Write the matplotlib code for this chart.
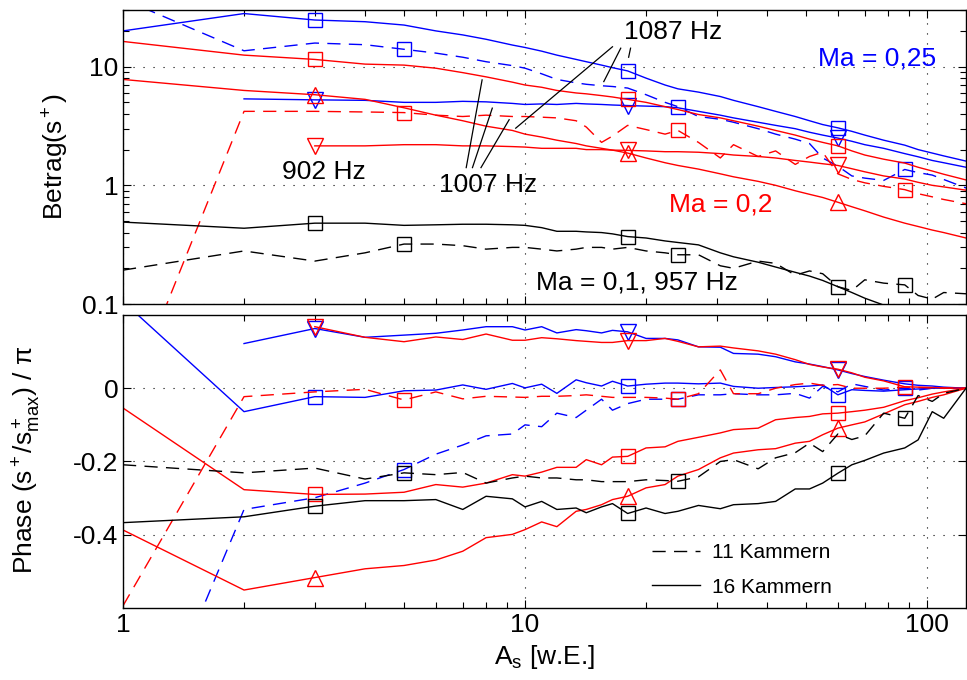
import matplotlib
matplotlib.use('Agg')
import matplotlib.pyplot as plt
from matplotlib.lines import Line2D
from matplotlib.ticker import FuncFormatter, NullFormatter
import numpy as np

plt.rcParams['font.family'] = ['Liberation Sans', 'DejaVu Sans']
plt.rcParams['mathtext.fontset'] = 'custom'
plt.rcParams['mathtext.rm'] = 'Liberation Sans'
plt.rcParams['mathtext.it'] = 'Liberation Sans:italic'
plt.rcParams['axes.unicode_minus'] = False

# common A_s grid
a_s = [1, 2, 3, 4, 5, 6, 7, 8, 9.3, 10, 11, 12, 13.4, 14.2, 15.5, 16.5, 18, 20, 22.3, 24,
       27, 30.6, 33, 38, 42, 47, 51, 55, 60, 65, 70, 78, 88, 95, 103, 110, 125]
x_mark_solid = [3, 18, 60]
x_mark_dash = [5, 24, 88]

# Betrag(s+)
mag_b_sq = [20, 28, 24.7, 23.9, 22.4, 20, 18.5, 17, 15.2, 14.5, 13.5, 12.5, 11.5, 11, 10.3,
            9.8, 9.2, 8.0, 7.0, 6.5, 6.1, 5.6, 5.2, 4.6, 4.2, 3.8, 3.5, 3.25, 3.05, 2.85,
            2.65, 2.4, 2.18, 2.0, 1.87, 1.77, 1.6]
mag_b_v = [None, 5.35, 5.25, 5.2, 5.0, 5.0, 5.1, 5.05, 4.9, 4.8, 4.85, 4.8, 4.9, 4.85, 4.8,
           4.75, 4.7, 4.65, 4.6, 4.5, 4.2, 3.9, 3.7, 3.4, 3.2, 3.0, 2.8, 2.65, 2.5, 2.35,
           2.2, 2.05, 1.85, 1.74, 1.62, 1.55, 1.42]
mag_b_da = [37, 13.6, 15.8, 15.3, 14, 13, 12, 11, 10.2, 9.7, 8.7, 7.8, 7.3, 7.1, 6.9,
            6.8, 6.6, 5.8, 5.0, 4.6, 3.8, 3.6, 3.4, 3.0, 2.7, 2.45, 2.25, 1.7, 1.45, 1.2,
            1.15, 1.1, 1.36, 1.28, 1.22, 1.12, 0.95]
mag_r_sq = [16.3, 12.5, 11.5, 10.5, 10.3, 9.7, 8.9, 8.2, 7.4, 7.0, 6.7, 6.3, 6.0, 5.9, 5.7,
            5.55, 5.3, 5.0, 4.6, 4.35, 3.95, 3.7, 3.5, 3.15, 2.9, 2.65, 2.45, 2.3, 2.15, 1.95,
            1.8, 1.66, 1.54, 1.42, 1.32, 1.24, 1.11]
mag_r_up = [7.8, 6.3, 5.8, 5.3, 4.5, 3.9, 3.5, 3.15, 2.9, 2.7, 2.55, 2.4, 2.25, 2.15, 2.05,
            1.98, 1.87, 1.7, 1.55, 1.47, 1.37, 1.25, 1.18, 1.08, 1.0, 0.9, 0.84, 0.79, 0.72, 0.66,
            0.61, 0.54, 0.48, 0.45, 0.42, 0.4, 0.36]
mag_r_v = [None, None, 2.15, 2.15, 2.2, 2.2, 2.15, 2.15, 2.12, 2.1, 2.05, 2.05, 2.05, 2.0, 2.0,
           1.98, 1.97, 1.95, 1.92, 1.92, 1.9, 1.85, 1.8, 1.75, 1.7, 1.62, 1.57, 1.52, 1.47, 1.38,
           1.3, 1.2, 1.13, 1.06, 1.0, 0.97, 0.91]
mag_r_da = [0.012, 4.2, 4.2, 4.15, 4.1, 3.9, 3.8, 3.9, 3.8, 3.8, 3.75, 3.7, 3.5, 3.1, 2.3,
            2.6, 3.2, 2.95, 2.7, 2.9, 2.3, 1.7, 2.2, 1.75, 1.95, 1.5, 1.75, 1.9, 1.25, 1.12,
            1.05, 0.98, 0.92, 0.85, 0.8, 0.76, 0.7]
mag_k_so = [0.49, 0.435, 0.48, 0.48, 0.46, 0.465, 0.47, 0.47, 0.465, 0.46, 0.44, 0.41, 0.41, 0.405, 0.4,
            0.39, 0.37, 0.36, 0.34, 0.33, 0.315, 0.27, 0.25, 0.225, 0.205, 0.185, 0.172, 0.158, 0.14, 0.125,
            0.112, 0.098, 0.083, 0.075, 0.068, 0.062, 0.052]
mag_k_da = [0.193, 0.28, 0.23, 0.27, 0.32, 0.32, 0.31, 0.29, 0.3, 0.3, 0.29, 0.28, 0.29, 0.3, 0.3,
            0.29, 0.3, 0.28, 0.27, 0.26, 0.26, 0.21, 0.2, 0.23, 0.22, 0.175, 0.19, 0.18, 0.14, 0.13,
            0.16, 0.15, 0.145, 0.118, 0.11, 0.125, 0.122]

# Phase (s+/s+max) / pi
ph_b_sq = [0.237, -0.064, -0.023, -0.025, -0.007, -0.005, 0.009, -0.003, 0.013, 0.001, 0.011, -0.014, 0.023, 0.015, 0.006,
           0.019, 0.006, 0.011, 0.014, 0.014, 0.012, 0.014, 0.005, 0.0, 0.002, 0.004, 0.006, 0.009, -0.018, -0.004,
           -0.006, -0.008, -0.004, -0.002, 0.0, 0.0, 0.0]
ph_b_v = [None, 0.122, 0.163, 0.139, 0.145, 0.15, 0.159, 0.168, 0.168, 0.159, 0.168, 0.151, 0.16, 0.157, 0.151,
          0.158, 0.154, 0.136, 0.136, 0.132, 0.113, 0.112, 0.095, 0.093, 0.086, 0.072, 0.066, 0.059, 0.05, 0.04,
          0.032, 0.022, 0.012, 0.008, 0.006, 0.003, 0.0]
ph_b_da = [-1.12, -0.331, -0.299, -0.259, -0.222, -0.18, -0.155, -0.13, -0.125, -0.1, -0.105, -0.068, -0.08, -0.06, -0.03,
           -0.06, -0.042, -0.03, -0.03, -0.03, -0.018, -0.018, -0.015, -0.018, -0.018, -0.014, -0.027, 0.005, -0.01, 0.012,
           0.005, -0.005, 0.0, -0.005, 0.0, 0.0, 0.0]
ph_r_sq = [-0.054, -0.277, -0.29, -0.289, -0.284, -0.263, -0.27, -0.259, -0.236, -0.24, -0.229, -0.216, -0.216, -0.195, -0.209,
           -0.188, -0.186, -0.163, -0.16, -0.145, -0.134, -0.122, -0.113, -0.109, -0.086, -0.08, -0.077, -0.07, -0.068, -0.064,
           -0.06, -0.052, -0.034, -0.026, -0.016, -0.01, 0.0]
ph_r_up = [-0.387, -0.551, -0.517, -0.493, -0.484, -0.469, -0.445, -0.408, -0.399, -0.386, -0.365, -0.378, -0.336, -0.331, -0.318,
           -0.304, -0.295, -0.272, -0.263, -0.24, -0.222, -0.19, -0.177, -0.168, -0.165, -0.15, -0.145, -0.127, -0.109, -0.1,
           -0.092, -0.07, -0.045, -0.036, -0.025, -0.018, 0.0]
ph_r_v = [None, None, 0.168, 0.139, 0.127, 0.14, 0.133, 0.148, 0.131, 0.131, 0.138, 0.135, 0.13, 0.128, 0.125,
          0.125, 0.13, 0.13, 0.136, 0.128, 0.113, 0.115, 0.11, 0.102, 0.093, 0.078, 0.065, 0.058, 0.052, 0.042,
          0.03, 0.02, 0.004, 0.003, 0.002, 0.001, 0.0]
ph_r_da = [-0.594, -0.023, -0.01, -0.003, -0.032, -0.01, -0.029, -0.022, -0.024, -0.025, -0.022, -0.022, -0.02, -0.018, -0.022,
           -0.025, -0.025, -0.025, -0.027, -0.03, -0.015, 0.05, -0.015, -0.015, 0.0, 0.01, 0.014, 0.008, 0.01, 0.0,
           0.0, 0.0, 0.003, 0.002, 0.001, 0.0, 0.0]
ph_k_so = [-0.367, -0.351, -0.322, -0.307, -0.307, -0.304, -0.331, -0.295, -0.302, -0.324, -0.309, -0.331, -0.327, -0.34, -0.324,
           -0.315, -0.342, -0.327, -0.342, -0.336, -0.32, -0.329, -0.318, -0.315, -0.309, -0.275, -0.275, -0.259, -0.232, -0.209,
           -0.197, -0.177, -0.163, -0.141, -0.064, -0.082, 0.0]
ph_k_da = [-0.209, -0.231, -0.218, -0.248, -0.231, -0.236, -0.23, -0.259, -0.245, -0.24, -0.245, -0.245, -0.25, -0.25, -0.255,
           -0.255, -0.255, -0.25, -0.252, -0.254, -0.242, -0.2, -0.195, -0.22, -0.19, -0.176, -0.15, -0.173, -0.125, -0.14,
           -0.13, -0.068, -0.082, -0.02, -0.036, -0.014, 0.0]

# (betrag, phase, colour, dashed?, marker)
series = [
    (mag_b_sq, ph_b_sq, 'b', False, 's'),
    (mag_b_v, ph_b_v, 'b', False, 'v'),
    (mag_b_da, ph_b_da, 'b', True, 's'),
    (mag_r_sq, ph_r_sq, 'r', False, 's'),
    (mag_r_up, ph_r_up, 'r', False, '^'),
    (mag_r_v, ph_r_v, 'r', False, 'v'),
    (mag_r_da, ph_r_da, 'r', True, 's'),
    (mag_k_so, ph_k_so, 'k', False, 's'),
    (mag_k_da, ph_k_da, 'k', True, 's'),
]

# text labels and pointer lines in the Betrag panel (data coords)
labels_top = [
    ('1087 Hz', 17.6, 19.6, 'k'),
    ('Ma = 0,25', 53.6, 11.8, 'b'),
    ('902 Hz', 2.49, 1.30, 'k'),
    ('1007 Hz', 6.12, 1.01, 'k'),
    ('Ma = 0,2', 22.8, 0.69, 'r'),
    ('Ma = 0,1, 957 Hz', 10.65, 0.152, 'k'),
]
pointers = [
    ((7.14, 1.41), (7.82, 7.73)),
    ((7.40, 1.41), (8.29, 4.47)),
    ((7.77, 1.41), (9.13, 3.57)),
    ((16.5, 14.7), (9.48, 3.03)),
    ((17.3, 14.3), (15.7, 7.48)),
    ((18.3, 14.3), (18.1, 12.0)),
]

FS = 19
DASH = (9.5, 6)
GRID = dict(color='k', linestyle=(0, (1, 8)), linewidth=0.8)

fig = plt.figure(figsize=(9.67, 6.8), dpi=100)
ax1 = fig.add_axes([0.1272, 0.5529, 0.8718, 0.4324])
ax2 = fig.add_axes([0.1272, 0.1059, 0.8718, 0.4309])

x = np.array(a_s, dtype=float)
for mag, ph, col, dashed, mk in series:
    marks = x_mark_dash if dashed else x_mark_solid
    idx = [a_s.index(v) for v in marks]
    ms = 9.5 if mk == 's' else 12
    for ax, vals in ((ax1, mag), (ax2, ph)):
        line, = ax.plot(x, np.array(vals, dtype=float), color=col, lw=1.0,
                        marker=mk, markevery=idx, ms=ms, mfc='none', mec=col, mew=1.0)
        if dashed:
            line.set_dashes(DASH)

for (x0, y0), (x1, y1) in pointers:
    ax1.plot([x0, x1], [y0, y1], color='k', lw=0.9)

for txt, tx, ty, col in labels_top:
    ax1.text(tx, ty, txt, color=col, fontsize=FS, ha='left', va='center')

for ax in (ax1, ax2):
    ax.set_xscale('log')
    ax.set_xlim(1, 125)
    ax.grid(True, which='major', **GRID)
    ax.tick_params(which='both', direction='in', top=True, right=True, labelsize=FS, width=0.8)
    ax.tick_params(which='major', length=6)
    ax.tick_params(which='minor', length=4)
    for sp in ax.spines.values():
        sp.set_linewidth(1.0)

ax1.set_yscale('log')
ax1.set_ylim(0.1, 30)
ax1.yaxis.set_major_formatter(FuncFormatter(lambda v, p: f'{v:g}'))
ax1.yaxis.set_minor_formatter(NullFormatter())
ax1.xaxis.set_major_formatter(NullFormatter())
ax1.xaxis.set_minor_formatter(NullFormatter())
ax1.set_ylabel('Betrag(s$^+$)', fontsize=FS)
ax1.yaxis.set_label_coords(-0.062, 0.5)

ax2.set_ylim(-0.6, 0.2)
ax2.set_yticks([-0.4, -0.2, 0])
ax2.yaxis.set_major_formatter(FuncFormatter(lambda v, p: f'{v:g}'))
ax2.xaxis.set_major_formatter(FuncFormatter(lambda v, p: f'{v:g}'))
ax2.xaxis.set_minor_formatter(NullFormatter())
ax2.set_ylabel(r'Phase (s$^+$/s$^+_{\mathrm{max}}$) / π', fontsize=FS)
ax2.yaxis.set_label_coords(-0.095, 0.505)
ax2.set_xlabel(r'A$_\mathrm{s}$ [w.E.]', fontsize=FS)
ax2.xaxis.set_label_coords(0.5, -0.12)

handles = [Line2D([], [], color='k', lw=1.0, dashes=DASH),
           Line2D([], [], color='k', lw=1.0)]
ax2.legend(handles, ['11 Kammern', '16 Kammern'], loc='lower left',
           bbox_to_anchor=(0.605, -0.025), frameon=False, fontsize=15,
           handlelength=2.3, handletextpad=0.6, labelspacing=0.75)

fig.savefig('out.png', dpi=100)
